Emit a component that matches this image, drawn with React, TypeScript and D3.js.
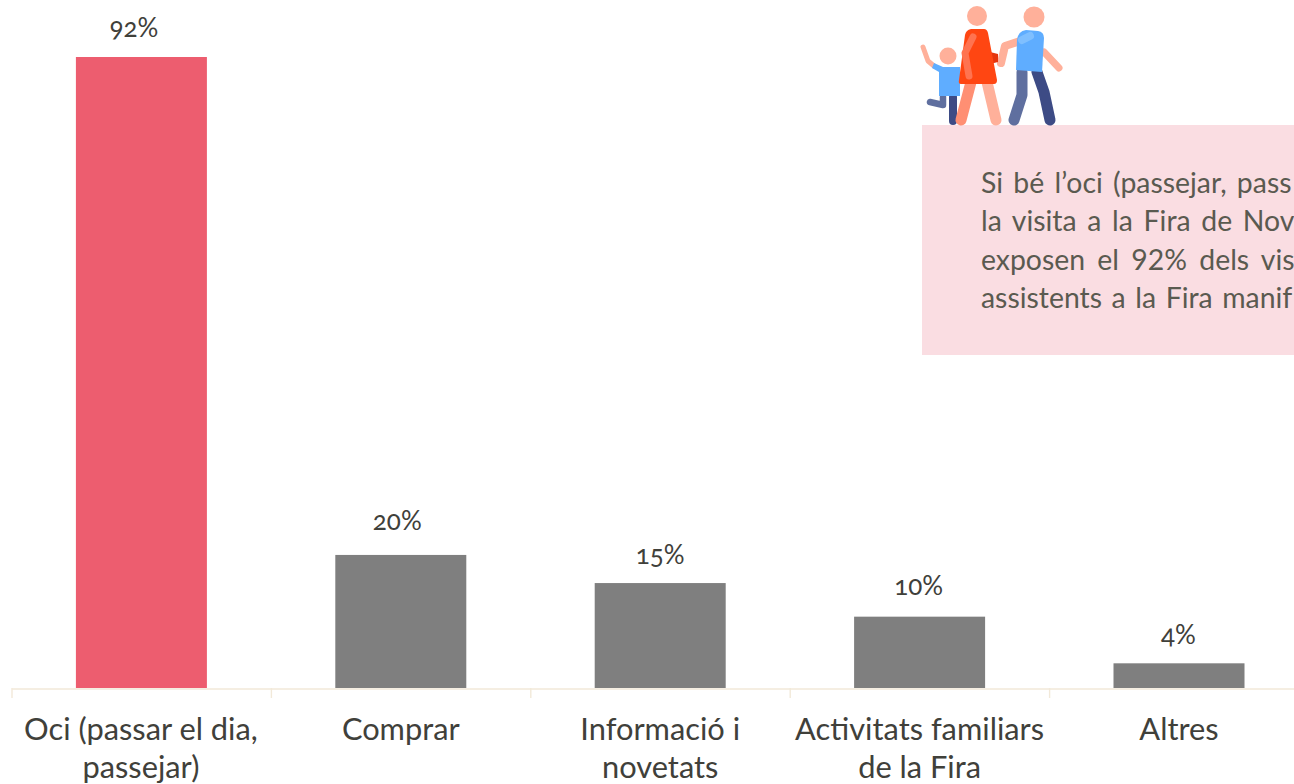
import { axisBottom, max, scaleBand, scaleLinear, select } from 'd3';
import React, { useEffect, useRef } from 'react';

const categories = ['Oci', 'Comprar', 'Informacio', 'Activitats', 'Altres'];
const categoryLines = [
  ['Oci (passar el dia,', 'passejar)'],
  ['Comprar'],
  ['Informació i', 'novetats'],
  ['Activitats familiars', 'de la Fira'],
  ['Altres'],
];
const values = [92, 19.4, 15.3, 10.4, 3.6];
const valueLabels = ['92%', '20%', '15%', '10%', '4%'];
const labelGaps = [29.5, 33.5, 28.5, 30.5, 28.5];
const labelShifts = [-7.5, -3.5, 0, -1, -0.5];
const noteLines = [
  'Si bé l’oci (passejar, pass',
  'la visita a la Fira de Nov',
  'exposen el 92% dels vis',
  'assistents a la Fira manif',
];
const noteWordSpacing = [3, 3.4, 5, 2.3];

const labelFont = 'Lato, "Open Sans", sans-serif';
const inkColor = '#40403a';

function Family() {
  const peach = '#ffb09a';
  const salmon = '#ff8f73';
  const navy = '#3d4b85';
  const slate = '#5f6f9f';
  const blue = '#5fadff';
  const limb = { fill: 'none', strokeLinecap: 'round', strokeLinejoin: 'round' } as const;
  return (
    <g>
      {/* child */}
      <path d="M923 47 L928 61 L934 66" {...limb} stroke={peach} strokeWidth={5} />
      <path d="M953 97 V121" {...limb} stroke={navy} strokeWidth={8} />
      <path d="M943 97 V105 L930 102" {...limb} stroke={slate} strokeWidth={6.5} />
      <path d="M934 63 L943 67 H960 V96 H939 V72 L932 68 Z" fill={blue} />
      <circle cx={948} cy={56} r={8.5} fill={peach} />
      {/* father */}
      <path d="M1044 52 L1059 68" {...limb} stroke={peach} strokeWidth={7} />
      <path d="M1022 72 V95 L1014 120" {...limb} stroke={slate} strokeWidth={11} />
      <path d="M1037 72 L1044 92 L1050 120" {...limb} stroke={navy} strokeWidth={11} />
      <path d="M1020 41 L1005 46 L1001 63" {...limb} stroke={peach} strokeWidth={8} />
      <path d="M1017 40 Q1018 31 1026 30 L1038 31 Q1044 32 1044 38 L1042 72 L1016 70 Z" fill={blue} />
      <path d="M1022 40 L1030 36" {...limb} stroke="#7fbfff" strokeWidth={8} />
      <circle cx={1034} cy={17} r={10.5} fill={peach} />
      {/* mother */}
      <path d="M990 52 L998 54 V62 L990 64 Z" fill="#e5350d" />
      <path d="M971 82 L961 120" {...limb} stroke={salmon} strokeWidth={11} />
      <path d="M987 82 L996 120" {...limb} stroke={peach} strokeWidth={11} />
      <path d="M971 29 H984 Q987 29 988 33 L997 80 Q997 84 994 84 H961 Q958 84 959 80 L965 35 Q966 30 971 29 Z" fill="#ff4612" />
      <path d="M973 37 L965 53 L969 76" {...limb} stroke="#ff7350" strokeWidth={7} />
      <circle cx={977} cy={16} r={10} fill={peach} />
    </g>
  );
}

function App() {
  const svgRef = useRef<SVGSVGElement>(null);

  useEffect(() => {
    const svg = select(svgRef.current);

    const xScale = scaleBand<string>()
      .domain(categories)
      .range([11.7, 1308.7])
      .paddingInner(0.495)
      .paddingOuter(0.2475);
    const yScale = scaleLinear()
      .domain([0, max(values) as number])
      .range([688, 57]);

    const xAxis = axisBottom(xScale)
      .tickSize(0)
      .tickFormat(() => '');
    svg
      .select<SVGGElement>('.xAxis_group')
      .attr('transform', 'translate(0,688.5)')
      .call(xAxis)
      .call(g => {
        g.selectAll('.domain').attr('stroke', '#f2e9d9').attr('stroke-width', 1.4);
      });

    const step = xScale.step();
    svg
      .select('.tick_group')
      .selectAll('line')
      .data([...categories, 'end'])
      .join('line')
      .attr('x1', (_, i) => 12 + i * step)
      .attr('x2', (_, i) => 12 + i * step)
      .attr('y1', 688)
      .attr('y2', 698)
      .attr('stroke', '#f2e9d9')
      .attr('stroke-width', 1.4);

    svg
      .select('.bar_group')
      .selectAll('rect')
      .data(values)
      .join('rect')
      .attr('x', (_, i) => xScale(categories[i]) as number)
      .attr('y', d => yScale(d))
      .attr('width', xScale.bandwidth())
      .attr('height', d => yScale(0) - yScale(d))
      .attr('fill', (_, i) => (i === 0 ? '#ed5d6f' : '#7f7f7f'));

    svg
      .select('.value_group')
      .selectAll('text')
      .data(valueLabels)
      .join('text')
      .attr('x', (_, i) => (xScale(categories[i]) as number) + xScale.bandwidth() / 2 + labelShifts[i])
      .attr('y', (_, i) => yScale(values[i]) - labelGaps[i] + 9)
      .attr('text-anchor', 'middle')
      .attr('font-family', labelFont)
      .attr('font-size', 26)
      .attr('fill', inkColor)
      .style('font-variant-numeric', 'oldstyle-nums')
      .text(d => d);

    svg
      .select('.category_group')
      .selectAll('text')
      .data(categoryLines)
      .join('text')
      .attr('text-anchor', 'middle')
      .attr('font-family', labelFont)
      .attr('font-size', 30.8)
      .attr('fill', inkColor)
      .each(function (lines, i) {
        select(this)
          .selectAll('tspan')
          .data(lines)
          .join('tspan')
          .attr('x', (xScale(categories[i]) as number) + xScale.bandwidth() / 2 - (i === 0 ? 0.5 : 0))
          .attr('y', (_, j) => 739.5 + j * 38.5)
          .text(d => d);
      });
  }, []);

  return (
    <svg
      ref={svgRef}
      width={1294}
      height={784}
      style={{ position: 'absolute', left: 0, top: 0, background: '#fff' }}
    >
      <g className="bar_group" />
      <g className="xAxis_group" />
      <g className="tick_group" />
      <g className="value_group" />
      <g className="category_group" />
      <rect x={922} y={125} width={372} height={230} fill="#fadde2" />
      <Family />
      <g fontFamily="Lato, sans-serif" fontSize={28.4} fill="#5a5a50">
        {noteLines.map((line, i) => (
          <text key={line} x={981} y={193 + i * 38.3} wordSpacing={noteWordSpacing[i]}>
            {line}
          </text>
        ))}
      </g>
    </svg>
  );
}

export default App;
